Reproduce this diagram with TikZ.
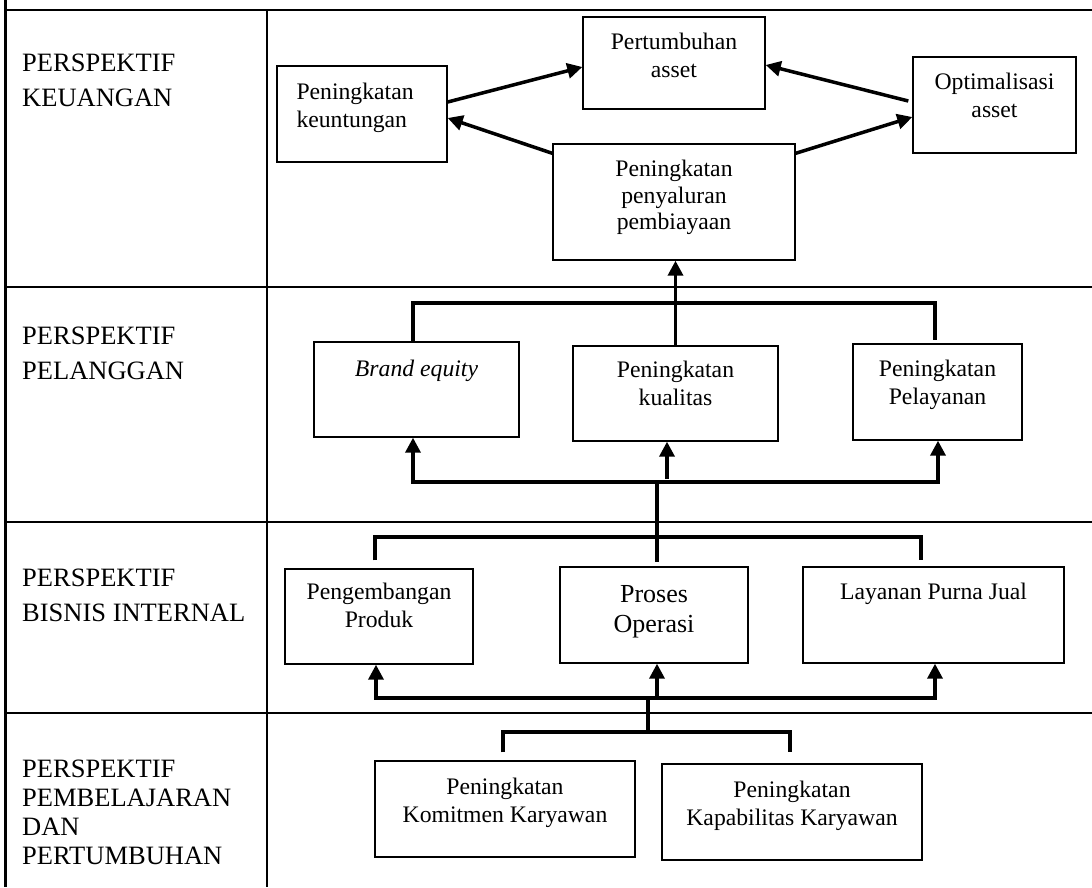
\documentclass[tikz,border=0pt]{standalone}
\usepackage{fontspec}
\setmainfont{Liberation Serif}
\usetikzlibrary{arrows.meta,calc}
\newcommand\bxf{\fontsize{23.7}{27.3}\selectfont}
\newcommand\bigbxf{\fontsize{26}{30}\selectfont}
\newcommand\lblf{\fontsize{26.5}{35}\selectfont}
\newcommand\lblfb{\fontsize{26.5}{29}\selectfont}
\begin{document}
\begin{tikzpicture}[x=1pt,y=-1pt,
  tbl/.style={line width=2.6pt},
  bx/.style={draw, line width=1.4pt, inner sep=0pt, rectangle},
  txt/.style={anchor=north, inner sep=0pt, align=center, font=\bxf},
  lbl/.style={anchor=north west, inner sep=0pt, align=left},
  ln/.style={line width=3.5pt},
  arr/.style={line width=3.5pt, -{Triangle[length=15pt,width=15pt]}},
  darr/.style={line width=3.5pt, {Triangle[length=15pt,width=15pt]}-{Triangle[length=15pt,width=15pt]}},
]
\useasboundingbox (0,0) rectangle (1092,887);

% table grid
\draw[tbl] (5.5,0) -- (5.5,887);
\draw[tbl] (267,10) -- (267,887);
\foreach \yy in {10,287,522,713} \draw[tbl] (4.2,\yy) -- (1092,\yy);

% row labels
\node[lbl, font=\lblf] (lK) at (22,53.5) {PERSPEKTIF\\KEUANGAN};
\node[lbl, font=\lblf] (lP) at (22,326.5) {PERSPEKTIF\\PELANGGAN};
\node[lbl, font=\lblf] (lI) at (22,568.5) {PERSPEKTIF\\BISNIS INTERNAL};
\node[lbl, font=\lblfb] (lL) at (22,759.5) {PERSPEKTIF\\PEMBELAJARAN\\DAN\\PERTUMBUHAN};

% boxes
\node[bx, minimum width=170pt, minimum height=96pt] (kt) at (362,114) {};
\node[bx, minimum width=182pt, minimum height=92pt] (pa) at (674,63) {};
\node[bx, minimum width=163pt, minimum height=96pt] (oa) at (994.5,105) {};
\node[bx, minimum width=242pt, minimum height=116pt] (pp) at (674,202) {};
\node[bx, minimum width=205pt, minimum height=95pt] (be) at (416.5,389.5) {};
\node[bx, minimum width=205pt, minimum height=95pt] (kq) at (675.5,393.5) {};
\node[bx, minimum width=169pt, minimum height=96pt] (pl) at (937.5,392) {};
\node[bx, minimum width=188pt, minimum height=95pt] (pg) at (379,616.5) {};
\node[bx, minimum width=188pt, minimum height=96pt] (po) at (654,615) {};
\node[bx, minimum width=261pt, minimum height=96pt] (lp) at (933.5,615) {};
\node[bx, minimum width=260pt, minimum height=96pt] (km) at (505,809) {};
\node[bx, minimum width=260pt, minimum height=96pt] (kb) at (792,812) {};

% box texts
\node[txt, anchor=north west, align=left] (ktT) at ($(kt.north west)+(20,18)$) {Peningkatan\\keuntungan};
\node[txt] (paT) at ($(pa.north)+(0,17)$) {Pertumbuhan\\asset};
\node[txt] (oaT) at ($(oa.north)+(0,17)$) {Optimalisasi\\asset};
\node[txt, font=\fontsize{23.7}{26.5}\selectfont] (ppT) at ($(pp.north)+(0,17)$) {Peningkatan\\penyaluran\\pembiayaan};
\node[txt] (beT) at ($(be.north)+(0,19)$) {\itshape Brand equity};
\node[txt] (kqT) at ($(kq.north)+(0,16)$) {Peningkatan\\kualitas};
\node[txt] (plT) at ($(pl.north)+(0,17)$) {Peningkatan\\Pelayanan};
\node[txt] (pgT) at ($(pg.north)+(0,15)$) {Pengembangan\\Produk};
\node[txt, font=\bigbxf] (poT) at ($(po.north)+(0,19)$) {Proses\\Operasi};
\node[txt] (lpT) at ($(lp.north)+(0,17)$) {Layanan Purna Jual};
\node[txt] (kmT) at ($(km.north)+(0,18)$) {Peningkatan\\Komitmen Karyawan};
\node[txt] (kbT) at ($(kb.north)+(0,18)$) {Peningkatan\\Kapabilitas Karyawan};

% keuangan connectors
\draw[arr] ($(kt.east)+(0,-12)$) -- ($(pa.west)+(0,4)$);
\draw[arr] ($(pp.north west)+(0,10)$) -- ($(kt.east)+(0,4)$);
\draw[arr] ($(oa.west)+(-4,-4)$) -- ($(pa.east)+(0,2)$);
\draw[arr] ($(pp.north east)+(0,10)$) -- ($(oa.west)+(0,12)$);

% pelanggan
\draw[arr] (kq.north) -- (kq.north |- pp.south);
\coordinate (gTL) at (413,303);
\coordinate (gTR) at (935,303);
\draw[ln] (be.north -| gTL) -- (gTL) -- (gTR) -- ($(pl.north -| gTR)+(0,-3)$);
\coordinate (gBL) at (413,482);
\coordinate (gBR) at (938,482);
\coordinate (gBM) at (667,479);
\draw[darr] (be.south -| gBL) -- (gBL) -- (gBR) -- (pl.south -| gBR);
\draw[arr] (gBM) -- (gBM |- kq.south);
\coordinate (s1) at (657,482);

% bisnis internal
\coordinate (iTL) at (375,537);
\coordinate (iTR) at (921,537);
\draw[ln] ($(pg.north -| iTL)+(0,-8)$) -- (iTL) -- (iTR) -- ($(lp.north -| iTR)+(0,-6)$);
\draw[ln] (s1) -- ($(po.north -| s1)+(0,-4)$);
\coordinate (iBL) at (376,698);
\coordinate (iBR) at (935,698);
\coordinate (iBM) at (657,696);
\draw[darr] (pg.south -| iBL) -- (iBL) -- (iBR) -- (lp.south -| iBR);
\draw[arr] (iBM) -- (iBM |- po.south);
\coordinate (s2) at (648,698);

% pembelajaran
\coordinate (bTL) at (503,732);
\coordinate (bTR) at (790,732);
\draw[ln] ($(km.north -| bTL)+(0,-8)$) -- (bTL) -- (bTR) -- ($(kb.north -| bTR)+(0,-11)$);
\draw[ln] (s2) -- (s2 |- bTL);
\end{tikzpicture}
\end{document}
